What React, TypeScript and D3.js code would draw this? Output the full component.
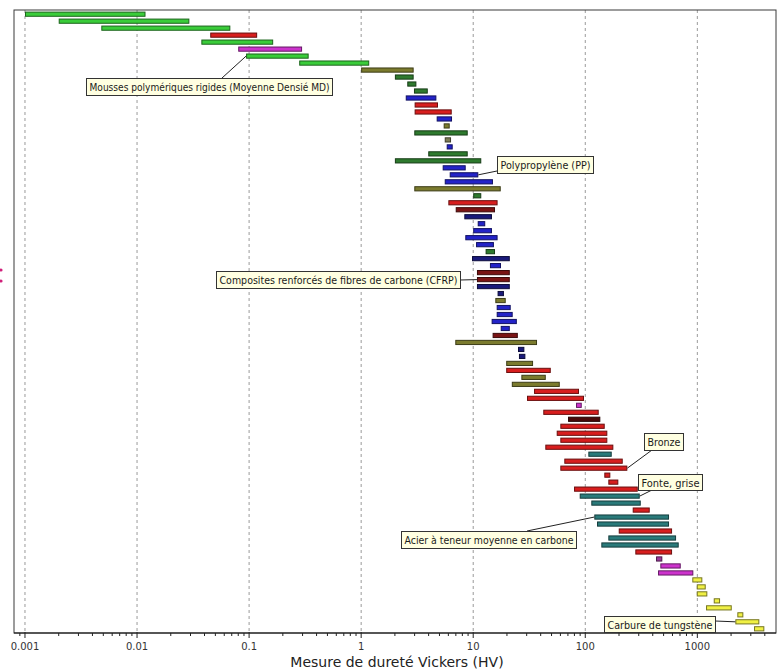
import React from "react";
import * as d3 from "d3";

// Lower / upper Vickers hardness of each material row (top to bottom)
const lows = [
  0.001, 0.002, 0.0048, 0.045, 0.0375, 0.08, 0.094, 0.28, 1.0, 2.0,
  2.58, 2.96, 2.5, 3.0, 3.0, 4.72, 5.45, 2.98, 5.57, 5.8,
  3.97, 2.0, 5.34, 6.17, 5.57, 2.98, 10.0, 6.0, 6.98, 8.33,
  10.97, 10.0, 8.5, 10.6, 12.9, 9.76, 14.1, 10.8, 10.8, 10.8,
  16.5, 15.75, 16.2, 16.2, 14.6, 17.6, 14.9, 6.92, 25.1, 25.6,
  19.7, 19.7, 26.9, 22.1, 34.9, 30.2, 82.7, 42.2, 70.2, 59.9,
  55.6, 59.9, 44.0, 106.5, 65.0, 59.9, 147.9, 160.6, 79.4, 89.2,
  113.2, 265, 120.4, 127.3, 198.9, 160.6, 139.1, 279.7, 428, 467.6,
  446, 902, 988, 988, 1401, 1196, 2275, 2184, 3206,
];
const highs = [
  0.0119, 0.0293, 0.068, 0.118, 0.164, 0.297, 0.34, 1.18, 2.94, 2.94,
  3.11, 3.93, 4.69, 4.85, 6.43, 6.47, 6.17, 8.93, 6.34, 6.56,
  8.93, 11.8, 8.57, 11.1, 15.0, 17.6, 11.8, 16.5, 15.65, 14.7,
  12.8, 14.7, 16.5, 15.3, 15.65, 21.2, 17.7, 21.2, 21.2, 21.2,
  18.8, 19.5, 21.6, 22.5, 24.5, 21.2, 25.0, 37.1, 28.6, 29.2,
  34.2, 49.2, 44.4, 59.2, 87.9, 97.4, 93.0, 131.8, 136.2, 149.1,
  157.3, 157.3, 178, 172.2, 215.9, 237.3, 167.3, 197.2, 293.9, 306.2,
  312.6, 376, 559, 559, 595, 646, 682, 595, 487, 711,
  921, 1108, 1188, 1228, 1595, 2028, 2574, 3575, 3962,
];
const families = [
  "g", "g", "g", "r", "g", "m", "g", "g", "o", "dg",
  "dg", "dg", "b", "r", "r", "b", "o", "dg", "go", "b",
  "dg", "dg", "b", "b", "b", "o", "dg", "r", "dr", "n",
  "b", "b", "b", "b", "dg", "n", "b", "dr", "dr", "n",
  "n", "o", "b", "b", "b", "b", "dr", "o", "n", "n",
  "o", "r", "o", "o", "r", "r", "m", "r", "mr", "r",
  "r", "r", "r", "t", "r", "r", "r", "r", "r", "t",
  "t", "r", "t", "t", "r", "t", "t", "r", "p", "m",
  "m", "y", "y", "y", "y", "y", "y", "y", "y",
];
const familyColors: Record<string, string> = {
  g: "#3acc3a",
  r: "#d81e1e",
  m: "#cc33cc",
  o: "#7b7b2e",
  dg: "#2e7a2e",
  b: "#2323c8",
  n: "#1a1a7a",
  dr: "#7a1414",
  mr: "#4a0a0a",
  t: "#2a7a7a",
  y: "#f0f044",
  p: "#9a3a9a",
  go: "#7e7e56",
};

const tickValues = [0.001, 0.01, 0.1, 1, 10, 100, 1000];
const tickLabels = ["0.001", "0.01", "0.1", "1", "10", "100", "1000"];
const xTitle = "Mesure de dureté Vickers (HV)";

const calloutLabels = [
  "Mousses polymériques rigides (Moyenne Densié MD)",
  "Polypropylène (PP)",
  "Composites renforcés de fibres de carbone (CFRP)",
  "Bronze",
  "Fonte, grise",
  "Acier à teneur moyenne en carbone",
  "Carbure de tungstène",
];
const calloutRows = [6, 23, 38, 65, 69, 72, 87];
const calloutEnds = ["lo", "hi", "lo", "hi", "hi", "lo", "lo"];

// layout of the callout boxes: [x, y, w, h, anchorX, anchorY]
const calloutBoxes = [
  [86, 78, 246, 17, 222, 78],
  [497, 156, 96, 17, 497, 171],
  [216, 271, 244, 17, 460, 280],
  [644, 433, 39, 17, 652, 450],
  [638, 474, 64, 16, 652, 490],
  [401, 531, 175, 17, 527, 531],
  [604, 616, 111, 16, 715, 621],
];

const W = 782;
const H = 671;
const plot = { left: 14, right: 776, top: 10, bottom: 633 };

export default function App() {
  const x = d3
    .scaleLog()
    .domain([Math.pow(10, -3.098), Math.pow(10, 3.702)])
    .range([plot.left, plot.right]);
  const y = d3
    .scaleBand<number>()
    .domain(d3.range(lows.length))
    .range([plot.top, plot.bottom])
    .paddingInner(0.4)
    .paddingOuter(0.3);

  const minor: number[] = [];
  for (let e = -4; e <= 3; e++) {
    for (let m = 2; m <= 9; m++) {
      const v = m * Math.pow(10, e);
      const px = x(v);
      if (px > plot.left + 1 && px < plot.right - 1) minor.push(v);
    }
  }

  const bw = y.bandwidth();
  const font = "'DejaVu Sans Condensed', 'DejaVu Sans', sans-serif";

  return (
    <div style={{ position: "absolute", left: 0, top: 0 }}>
      <svg width={W} height={H} style={{ display: "block", background: "#fff" }}>
        {/* grid */}
        {tickValues.map((v, i) => (
          <line
            key={"g" + i}
            x1={x(v)}
            x2={x(v)}
            y1={plot.top}
            y2={plot.bottom}
            stroke="#9a9a9a"
            strokeWidth={1}
            strokeDasharray="3 3"
          />
        ))}
        {/* bars */}
        {lows.map((lo, i) => {
          const fill = familyColors[families[i]];
          const stroke = d3.color(fill)!.darker(2).formatHex();
          return (
            <rect
              key={"b" + i}
              x={x(lo) + 0.5}
              y={y(i)!}
              width={Math.max(1, x(highs[i]) - x(lo) - 1)}
              height={bw}
              fill={fill}
              stroke={stroke}
              strokeWidth={1}
            />
          );
        })}
        {/* frame */}
        <rect
          x={plot.left}
          y={plot.top}
          width={plot.right - plot.left}
          height={plot.bottom - plot.top}
          fill="none"
          stroke="#3a3a3a"
          strokeWidth={1}
        />
        {/* axis */}
        <line x1={plot.left} x2={plot.right} y1={plot.bottom} y2={plot.bottom} stroke="#111" strokeWidth={1.2} />
        {minor.map((v, i) => (
          <line key={"m" + i} x1={x(v)} x2={x(v)} y1={plot.bottom} y2={plot.bottom + 3} stroke="#222" />
        ))}
        {tickValues.map((v, i) => (
          <g key={"t" + i}>
            <line x1={x(v)} x2={x(v)} y1={plot.bottom - 1} y2={plot.bottom + 5} stroke="#222" />
            <text
              x={x(v)}
              y={649.5}
              textAnchor="middle"
              fontFamily="'DejaVu Sans', sans-serif"
              fontSize={10}
              fill="#333"
            >
              {tickLabels[i]}
            </text>
          </g>
        ))}
        <text
          x={397}
          y={667}
          textAnchor="middle"
          fontFamily="'DejaVu Sans', sans-serif"
          fontSize={14}
          fill="#222"
        >
          {xTitle}
        </text>
        {/* callouts */}
        {calloutLabels.map((label, i) => {
          const [bx, by, w, h, ax, ay] = calloutBoxes[i];
          const r = calloutRows[i];
          const tx = calloutEnds[i] === "lo" ? x(lows[r]) : x(highs[r]);
          const ty = y(r)! + bw / 2;
          return (
            <g key={"c" + i}>
              <line x1={ax} y1={ay} x2={tx} y2={ty} stroke="#222" strokeWidth={1} />
              <rect x={bx + 0.5} y={by + 0.5} width={w} height={h} fill="#ffffe1" stroke="#333" strokeWidth={1} />
              <text
                x={bx + 3.5}
                y={by + 12.5}
                fontFamily={font}
                fontSize={11}
                fill="#1a1a1a"
                textLength={w - 6}
                lengthAdjust="spacingAndGlyphs"
              >
                {label}
              </text>
            </g>
          );
        })}
        {/* cropped fragment at left edge */}
        <circle cx={1} cy={270} r={1.6} fill="#d0207a" />
        <circle cx={1} cy={281} r={1.6} fill="#d0207a" />
      </svg>
    </div>
  );
}
